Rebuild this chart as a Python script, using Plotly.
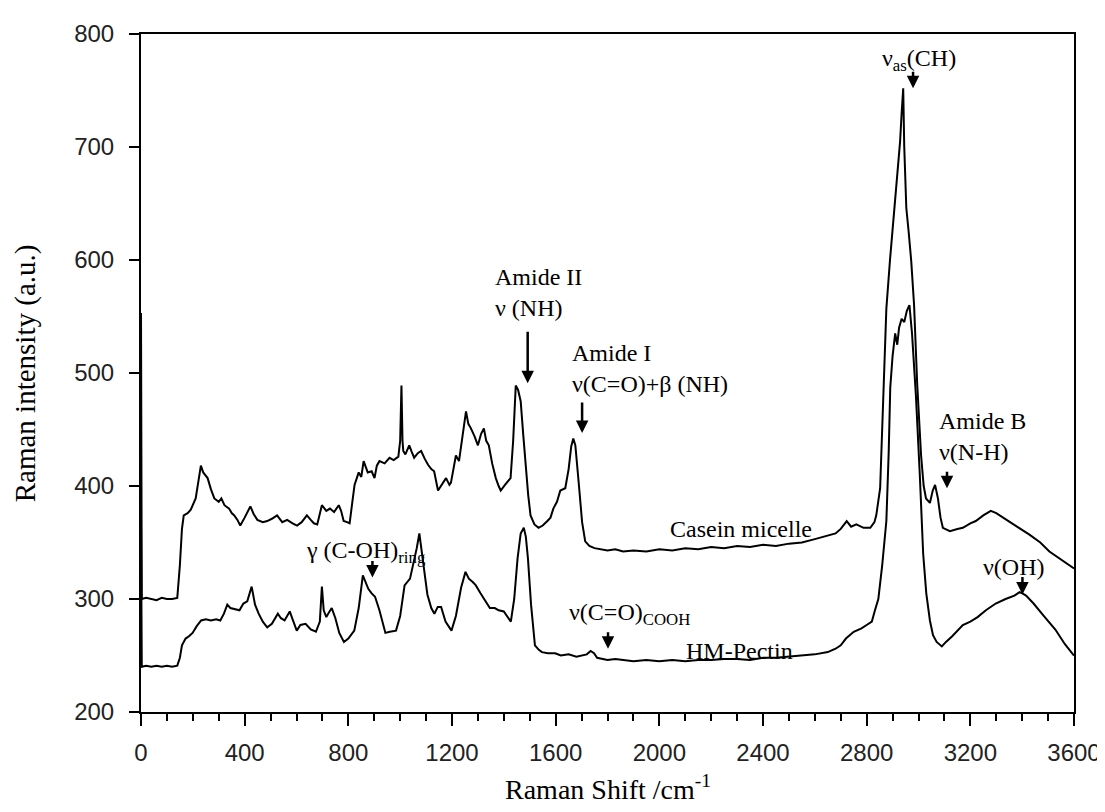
import plotly.graph_objects as go

# ---------------- data ----------------
casein_x = [0, 3, 20, 40, 60, 80, 100, 120, 140, 150, 158, 165, 180, 192, 202, 211, 222, 231, 240, 257,
            270, 283, 300, 310, 322, 340, 350, 360, 372, 383, 400, 422, 435, 449, 470, 487, 505, 525, 545, 564,
            585, 602, 620, 640, 655, 667, 680, 698, 715, 729, 745, 763, 772, 782, 795, 805, 815, 824, 840, 850,
            859, 875, 890, 901, 910, 920, 940, 959, 975, 993, 1000, 1005, 1009, 1012, 1020, 1035, 1045, 1054, 1068, 1081,
            1095, 1107, 1120, 1131, 1146, 1162, 1177, 1190, 1196, 1208, 1215, 1227, 1240, 1254, 1263, 1273, 1287, 1300, 1312, 1323,
            1332, 1342, 1355, 1369, 1380, 1388, 1408, 1426, 1436, 1446, 1455, 1465, 1475, 1484, 1494, 1503, 1518, 1534, 1550, 1568,
            1580, 1591, 1605, 1618, 1637, 1650, 1660, 1668, 1676, 1690, 1702, 1714, 1730, 1750, 1775, 1800, 1830, 1860, 1900, 1950,
            2000, 2050, 2100, 2150, 2200, 2250, 2300, 2350, 2400, 2450, 2500, 2550, 2600, 2650, 2680, 2700, 2723, 2740, 2760, 2788,
            2814, 2830, 2837, 2852, 2864, 2876, 2890, 2910, 2920, 2929, 2935, 2941, 2945, 2953, 2962, 2972, 2983, 2995, 3010, 3020,
            3029, 3044, 3055, 3064, 3075, 3085, 3094, 3121, 3150, 3171, 3200, 3221, 3250, 3279, 3300, 3325, 3380, 3428, 3470, 3505,
            3550, 3600]
casein_y = [553, 300, 301, 300, 299, 301, 300, 300, 301, 330, 362, 374, 376, 379, 384, 389, 405, 418, 412, 407,
            397, 389, 386, 389, 383, 380, 376, 374, 370, 365, 372, 382, 375, 370, 368, 369, 371, 374, 368, 370,
            367, 365, 368, 374, 370, 367, 366, 383, 378, 380, 377, 383, 378, 369, 368, 367, 385, 401, 412, 408,
            422, 412, 413, 407, 418, 422, 420, 425, 423, 426, 440, 489, 440, 431, 428, 436, 430, 425, 429, 431,
            424, 419, 415, 413, 396, 402, 407, 401, 403, 418, 427, 422, 445, 466, 455, 451, 444, 436, 446, 451,
            440, 436, 420, 407, 400, 396, 402, 407, 440, 489, 485, 475, 445, 416, 392, 374, 366, 363, 365, 369,
            372, 380, 386, 396, 398, 415, 435, 442, 436, 400, 368, 351, 347, 345, 344, 343, 344, 342, 343, 342,
            344, 343, 345, 344, 346, 345, 347, 346, 348, 347, 349, 350, 353, 356, 358, 362, 369, 364, 366, 363,
            363, 368, 374, 398, 487, 557, 600, 652, 680, 705, 730, 752, 700, 646, 625, 599, 560, 490, 427, 400,
            389, 385, 396, 401, 389, 372, 363, 360, 362, 363, 367, 369, 374, 378, 376, 372, 364, 357, 350, 342,
            335, 327]

pectin_x = [0, 3, 20, 40, 60, 80, 100, 120, 140, 150, 158, 172, 185, 199, 215, 232, 250, 270, 290, 306,
            320, 333, 345, 360, 380, 395, 410, 427, 440, 454, 470, 487, 505, 528, 540, 554, 574, 585, 601, 615,
            635, 655, 675, 690, 698, 705, 715, 725, 736, 750, 765, 783, 800, 823, 840, 856, 865, 877, 890, 903,
            920, 943, 960, 984, 1000, 1017, 1038, 1050, 1064, 1074, 1085, 1105, 1120, 1132, 1145, 1158, 1175, 1198, 1215, 1235,
            1252, 1265, 1280, 1292, 1310, 1330, 1346, 1365, 1380, 1400, 1415, 1427, 1440, 1453, 1465, 1477, 1485, 1493, 1505, 1520,
            1535, 1547, 1570, 1598, 1620, 1650, 1680, 1700, 1720, 1735, 1748, 1760, 1780, 1800, 1830, 1860, 1900, 1950, 2000, 2050,
            2100, 2150, 2200, 2250, 2300, 2350, 2400, 2450, 2500, 2550, 2600, 2650, 2680, 2700, 2720, 2750, 2780, 2800, 2820, 2832,
            2845, 2860, 2876, 2885, 2891, 2900, 2910, 2918, 2925, 2935, 2945, 2955, 2965, 2975, 2990, 3005, 3018, 3030, 3044, 3056,
            3070, 3090, 3106, 3130, 3171, 3200, 3228, 3260, 3298, 3336, 3370, 3390, 3401, 3415, 3444, 3480, 3528, 3565, 3600]
pectin_y = [365, 240, 241, 240, 241, 240, 241, 240, 241, 248, 259, 265, 267, 270, 276, 281, 282, 281, 282, 281,
            287, 295, 292, 291, 290, 296, 298, 311, 295, 287, 280, 275, 278, 287, 283, 281, 289, 282, 272, 277,
            278, 273, 271, 280, 311, 290, 284, 288, 292, 283, 270, 262, 265, 272, 292, 321, 316, 309, 305, 302,
            290, 270, 271, 272, 285, 312, 318, 330, 345, 358, 340, 304, 292, 287, 293, 293, 280, 272, 285, 310,
            324, 318, 315, 312, 305, 298, 292, 292, 290, 289, 284, 280, 300, 336, 358, 363, 355, 336, 295, 259,
            255, 253, 252, 252, 250, 251, 249, 250, 251, 254, 252, 248, 247, 246, 247, 246, 245, 246, 245, 246,
            245, 246, 246, 247, 247, 246, 248, 248, 249, 250, 251, 253, 256, 259, 265, 271, 274, 277, 280, 290,
            300, 330, 369, 430, 487, 515, 535, 525, 540, 548, 545, 555, 560, 535, 480, 410, 340, 305, 281, 268,
            262, 258, 262, 267, 277, 280, 284, 290, 296, 300, 303, 306, 305, 303, 296, 286, 273, 260, 250]

x_ticks = [0, 400, 800, 1200, 1600, 2000, 2400, 2800, 3200, 3600]
y_ticks = [200, 300, 400, 500, 600, 700, 800]

# peak labels: (text, x, y, xanchor)
labels = [
    ("ν<sub>as</sub>(CH)", 3002, 777, "center"),
    ("Amide II<br>ν (NH)", 1357, 571, "left"),
    ("Amide I<br>ν(C=O)+β (NH)", 1656, 504, "left"),
    ("Amide B<br>ν(N-H)", 3071, 444, "left"),
    ("ν(OH)", 3370, 328, "center"),
    ("γ (C-OH)<sub>ring</sub>", 629, 342, "left"),
    ("ν(C=O)<sub>COOH</sub>", 1645, 287, "left"),
    ("Casein micelle", 2032, 362, "left"),
    ("HM-Pectin", 2094, 254, "left"),
]
# arrows: (tip x, tip y, length in px)
arrows = [
    (2979, 752, 18),
    (1492, 491, 53),
    (1702, 447, 32),
    (3110, 398, 18),
    (3401, 304, 19),
    (893, 319, 18),
    (1802, 256, 18),
]

SERIF = "'Times New Roman', 'Liberation Serif', serif"
SANS = "Arial, 'Liberation Sans', sans-serif"

fig = go.Figure()
fig.add_trace(go.Scatter(x=casein_x, y=casein_y, mode="lines",
                         line=dict(color="black", width=2), name="Casein micelle"))
fig.add_trace(go.Scatter(x=pectin_x, y=pectin_y, mode="lines",
                         line=dict(color="black", width=2), name="HM-Pectin"))

annotations = []
for text, x, y, xa in labels:
    annotations.append(dict(x=x, y=y, xref="x", yref="y", text=text, showarrow=False,
                            xanchor=xa, yanchor="middle", align="left",
                            font=dict(family=SERIF, size=24, color="black")))
for x, y, L in arrows:
    annotations.append(dict(x=x, y=y, xref="x", yref="y", text="", showarrow=True,
                            ax=0, ay=-L, arrowhead=2, arrowsize=1, arrowwidth=2.5,
                            arrowcolor="black", standoff=0))
# axis titles
annotations.append(dict(x=0.5, y=-0.112, xref="paper", yref="paper",
                        text="Raman Shift /cm<sup>-1</sup>", showarrow=False,
                        xanchor="center", yanchor="middle",
                        font=dict(family=SERIF, size=28, color="black")))
annotations.append(dict(x=-0.124, y=0.5, xref="paper", yref="paper",
                        text="Raman intensity (a.u.)", showarrow=False, textangle=-90,
                        xanchor="center", yanchor="middle",
                        font=dict(family=SERIF, size=29, color="black")))

fig.update_layout(
    width=1105, height=812,
    margin=dict(l=133, r=33, t=26, b=108),
    plot_bgcolor="white", paper_bgcolor="white",
    showlegend=False,
    annotations=annotations,
    xaxis=dict(range=[0, 3600], tickvals=x_ticks, ticks="outside", ticklen=12, tickwidth=2,
               tickcolor="black", showline=True, linewidth=2, linecolor="black", mirror=True,
               showgrid=False, zeroline=False, ticklabelstandoff=6,
               minor=dict(dtick=100, tick0=0, ticks="outside", ticklen=7, tickwidth=1.5, tickcolor="black"),
               tickfont=dict(family=SANS, size=24, color="#222222")),
    yaxis=dict(range=[200, 800], tickvals=y_ticks, ticks="outside", ticklen=10, tickwidth=2,
               tickcolor="black", showline=True, linewidth=2, linecolor="black", mirror=True,
               showgrid=False, zeroline=False, ticklabelstandoff=10,
               tickfont=dict(family=SANS, size=24, color="#222222")),
)

fig.write_html("out.html")
